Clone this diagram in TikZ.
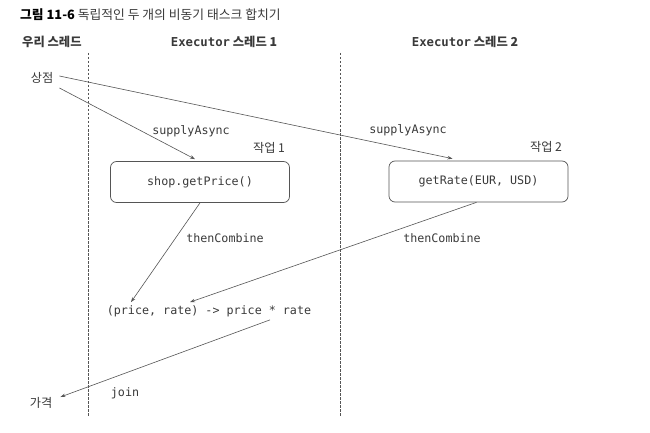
\documentclass[tikz,border=0pt]{standalone}
\usepackage{fontspec}
\setmainfont{Noto Sans CJK KR}
\setmonofont{DejaVu Sans Mono}
\usetikzlibrary{arrows.meta}
\definecolor{txt}{HTML}{3A3A3A}
\definecolor{ln}{HTML}{555555}
\tikzset{
  kr/.style={font=\fontsize{12.2}{14}\selectfont, text=txt, inner sep=0pt},
  code/.style={font=\ttfamily\fontsize{11.7}{13}\selectfont, text=txt, inner sep=0pt},
  head/.style={font=\bfseries\fontsize{12.3}{14}\selectfont, text=txt, inner sep=0pt},
  taskbox/.style={draw=ln, line width=0.7pt, rounded corners=6pt, minimum width=179pt, minimum height=41pt, code},
  conn/.style={draw=ln, line width=0.6pt, -{Stealth[length=5pt,width=3.5pt]}},
  lane/.style={draw=ln, line width=0.5pt, dash pattern=on 2.5pt off 1.5pt},
}
\begin{document}
\begin{tikzpicture}[x=1pt,y=-1pt]
\useasboundingbox[fill=white] (0,0) rectangle (650,433);
% title
\node[anchor=west, inner sep=0pt, font=\fontsize{12.8}{14}\selectfont] (title) at (20,15)
  {\textbf{그림 11-6} \textcolor{txt}{독립적인 두 개의 비동기 태스크 합치기}};
% headers
\node[head, anchor=west] (h0) at (22,42) {우리 스레드};
\node[head] (h1) at (224,42) {{\ttfamily Executor} 스레드 1};
\node[head] (h2) at (465,42) {{\ttfamily Executor} 스레드 2};
% lanes
\coordinate (l1t) at (88,53); \coordinate (l1b) at (88,416);
\coordinate (l2t) at (340,53); \coordinate (l2b) at (340,416);
\draw[lane] (l1t) -- (l1b);
\draw[lane] (l2t) -- (l2b);
% nodes
\node[kr] (shop) at (42,78) {상점};
\node[taskbox] (b1) at (200,182) {shop.getPrice()};
\node[taskbox] (b2) at (478.5,181.5) {getRate(EUR, USD)};
\node[kr] (t1) at (269,148) {작업 1};
\node[kr] (t2) at (546,147) {작업 2};
\node[code] (expr) at (209,311) {(price, rate) -> price * rate};
\node[kr] (res) at (41,403) {가격};
% labels
\node[code] (s1) at (191,131) {supplyAsync};
\node[code] (s2) at (408,130) {supplyAsync};
\node[code] (c1) at (225,238) {thenCombine};
\node[code] (c2) at (442,238) {thenCombine};
\node[code] (j) at (125,393) {join};
% connectors
\draw[conn] ([xshift=6pt,yshift=-10pt]shop.east) -- ([xshift=-5pt,yshift=2pt]b1.north);
\draw[conn] ([xshift=6pt,yshift=2pt]shop.east) -- ([xshift=-26pt,yshift=2pt]b2.north);
\draw[conn] (b1.south) -- ([xshift=-78pt,yshift=3pt]expr.north);
\draw[conn] ([xshift=-2pt]b2.south) -- ([xshift=-19pt,yshift=3pt]expr.north);
\draw[conn] ([xshift=61pt,yshift=-3pt]expr.south) -- ([xshift=8pt,yshift=6pt]res.east);
\end{tikzpicture}
\end{document}
